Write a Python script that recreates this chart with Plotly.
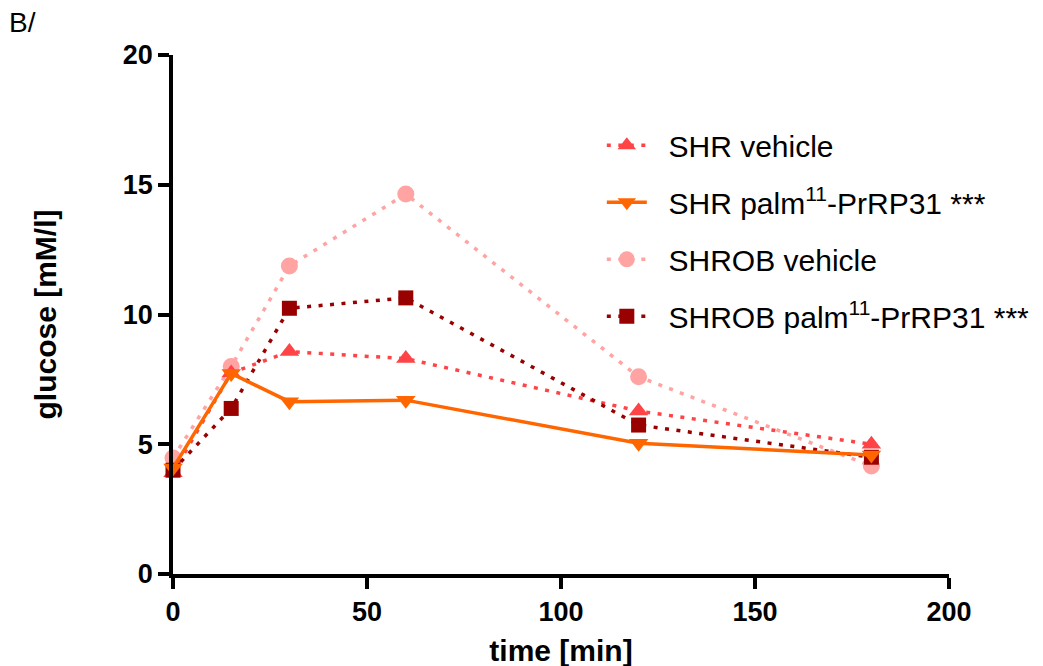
import plotly.graph_objects as go

time_min = [0, 15, 30, 60, 120, 180]

shr_vehicle = [3.9, 7.75, 8.57, 8.3, 6.28, 5.0]
shr_palm = [4.08, 7.73, 6.64, 6.7, 5.04, 4.59]
shrob_vehicle = [4.47, 8.0, 11.87, 14.64, 7.6, 4.16]
shrob_palm = [4.0, 6.38, 10.24, 10.64, 5.74, 4.5]

labels = [
    "SHR vehicle",
    "SHR palm<sup>11</sup>-PrRP31 ***",
    "SHROB vehicle",
    "SHROB palm<sup>11</sup>-PrRP31 ***",
]

x_ticks = [0, 50, 100, 150, 200]
y_ticks = [0, 5, 10, 15, 20]

DOT = "4px,7.5px"
LW = 3.5
GAP = "&nbsp;&nbsp;"

fig = go.Figure()

# drawing order (bottom -> top): SHROB vehicle, SHR vehicle, SHROB palm, SHR palm
fig.add_trace(go.Scatter(
    x=time_min, y=shrob_vehicle, name=GAP + labels[2], legendrank=3, legendgroup="c",
    mode="lines+markers", cliponaxis=False,
    line=dict(color="#ffa3a3", width=LW, dash=DOT),
    marker=dict(symbol="circle", size=17, color="#ffa3a3"),
))
fig.add_trace(go.Scatter(
    x=time_min, y=shr_vehicle, name=GAP + labels[0], legendrank=1, legendgroup="a",
    mode="lines+markers", cliponaxis=False,
    line=dict(color="#ff4447", width=LW, dash=DOT),
    marker=dict(symbol="triangle-up", size=17, color="#ff4447"),
))
fig.add_trace(go.Scatter(
    x=time_min, y=shrob_palm, name=GAP + labels[3], legendrank=4, legendgroup="d",
    mode="lines+markers", cliponaxis=False,
    line=dict(color="#990000", width=LW, dash=DOT),
    marker=dict(symbol="square", size=15, color="#990000"),
))
fig.add_trace(go.Scatter(
    x=time_min, y=shr_palm, name=GAP + labels[1], legendrank=2, legendgroup="b",
    mode="lines+markers", cliponaxis=False,
    line=dict(color="#ff6600", width=LW),
    marker=dict(symbol="triangle-down", size=17, color="#ff6600"),
))

axis_common = dict(
    showline=True, linecolor="black", linewidth=3.5,
    ticks="outside", ticklen=11, tickwidth=3.5, tickcolor="black",
    showgrid=False, zeroline=False,
    tickfont=dict(family="Liberation Sans", size=27, color="black", weight="bold"),
    title_font=dict(family="Liberation Sans", size=30, color="black", weight="bold"),
)

fig.update_layout(
    width=1043, height=666,
    margin=dict(l=165, r=102, t=47, b=100),
    paper_bgcolor="white", plot_bgcolor="white",
    font=dict(family="Liberation Sans", color="black"),
    xaxis=dict(range=[0, 200], tickvals=x_ticks, title=dict(text="time [min]", standoff=15), **axis_common),
    yaxis=dict(range=[0, 20], tickvals=y_ticks, title=dict(text="glucose [mM/l]", standoff=58), **axis_common),
    legend=dict(
        x=0.5526, y=0.876, xanchor="left", yanchor="top",
        font=dict(family="Liberation Sans", size=30, color="black"),
        bgcolor="rgba(0,0,0,0)", itemwidth=40, tracegroupgap=15,
        traceorder="grouped",
    ),
    annotations=[dict(
        text="B/", x=0, y=1, xref="paper", yref="paper", xanchor="left", yanchor="top",
        showarrow=False, font=dict(family="Liberation Sans", size=28, color="black"),
        xshift=-166, yshift=50,
    )],
)

fig.write_html("out.html")
